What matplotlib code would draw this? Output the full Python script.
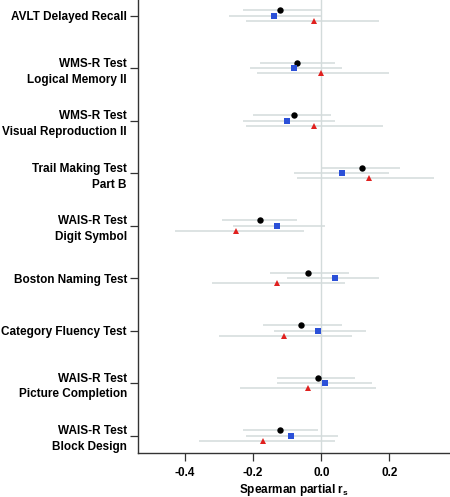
import matplotlib
matplotlib.use("Agg")
import matplotlib.pyplot as plt
import numpy as np

plt.rcParams['font.family'] = ['Liberation Sans', 'DejaVu Sans']

categories = ["AVLT Delayed Recall", "WMS-R Test\nLogical Memory II",
              "WMS-R Test\nVisual Reproduction II", "Trail Making Test\nPart B",
              "WAIS-R Test\nDigit Symbol", "Boston Naming Test",
              "Category Fluency Test", "WAIS-R Test\nPicture Completion",
              "WAIS-R Test\nBlock Design"]

black_est = [-0.12, -0.07, -0.08, 0.12, -0.18, -0.04, -0.06, -0.01, -0.12]
black_lo  = [-0.23, -0.18, -0.20, 0.00, -0.29, -0.15, -0.17, -0.13, -0.23]
black_hi  = [0.00, 0.04, 0.03, 0.23, -0.07, 0.08, 0.06, 0.10, -0.01]

blue_est = [-0.14, -0.08, -0.10, 0.06, -0.13, 0.04, -0.01, 0.01, -0.09]
blue_lo  = [-0.27, -0.21, -0.23, -0.08, -0.26, -0.10, -0.14, -0.13, -0.22]
blue_hi  = [0.00, 0.06, 0.04, 0.20, 0.01, 0.17, 0.13, 0.15, 0.05]

red_est = [-0.02, 0.00, -0.02, 0.14, -0.25, -0.13, -0.11, -0.04, -0.17]
red_lo  = [-0.22, -0.19, -0.22, -0.07, -0.43, -0.32, -0.30, -0.24, -0.36]
red_hi  = [0.17, 0.20, 0.18, 0.33, -0.05, 0.07, 0.09, 0.16, 0.04]

xticks = [-0.4, -0.2, 0.0, 0.2]
xticklabels = ["-0.4", "-0.2", "0.0", "0.2"]

fig = plt.figure(figsize=(4.5, 4.97), dpi=100)
ax = fig.add_axes([0.3067, 0.0885, 0.6933, 0.9115])

y = np.arange(len(categories))
ci_color = "#d3dbdb"
series = [
    (black_est, black_lo, black_hi, -0.1, "o", "black", 4.6),
    (blue_est, blue_lo, blue_hi, 0.0, "s", "#2b50d8", 4.2),
    (red_est, red_lo, red_hi, 0.1, "^", "#e0201e", 5.0),
]
ax.axvline(0, color="#d3dbdb", lw=1.0, zorder=1)
for est, lo, hi, off, mk, col, ms in series:
    yy = y + off
    ax.hlines(yy, lo, hi, color=ci_color, lw=1.1, zorder=2)
    ax.plot(est, yy, linestyle="none", marker=mk, color=col, markersize=ms, zorder=3,
            markeredgewidth=0)

fs = 8.5
ax.set_ylim(8.33, -0.30)
ax.set_xlim(-0.538, 0.378)
ax.set_yticks(y)
ax.set_yticklabels(categories, fontsize=fs, fontweight="bold", linespacing=1.42)
ax.set_xticks(xticks)
ax.set_xticklabels(xticklabels, fontsize=fs, fontweight="bold")
ax.set_xlabel("Spearman partial r$_{\\mathregular{s}}$", fontsize=fs, fontweight="bold",
              labelpad=2)
for s in ["top", "right"]:
    ax.spines[s].set_visible(False)
for s in ["left", "bottom"]:
    ax.spines[s].set_color("#333333")
    ax.spines[s].set_linewidth(1.0)
ax.tick_params(axis="both", length=6, width=0.9, color="#333333", labelcolor="black")
ax.tick_params(axis="y", pad=2)
ax.tick_params(axis="x", pad=4)

fig.savefig("out.png", dpi=100)
